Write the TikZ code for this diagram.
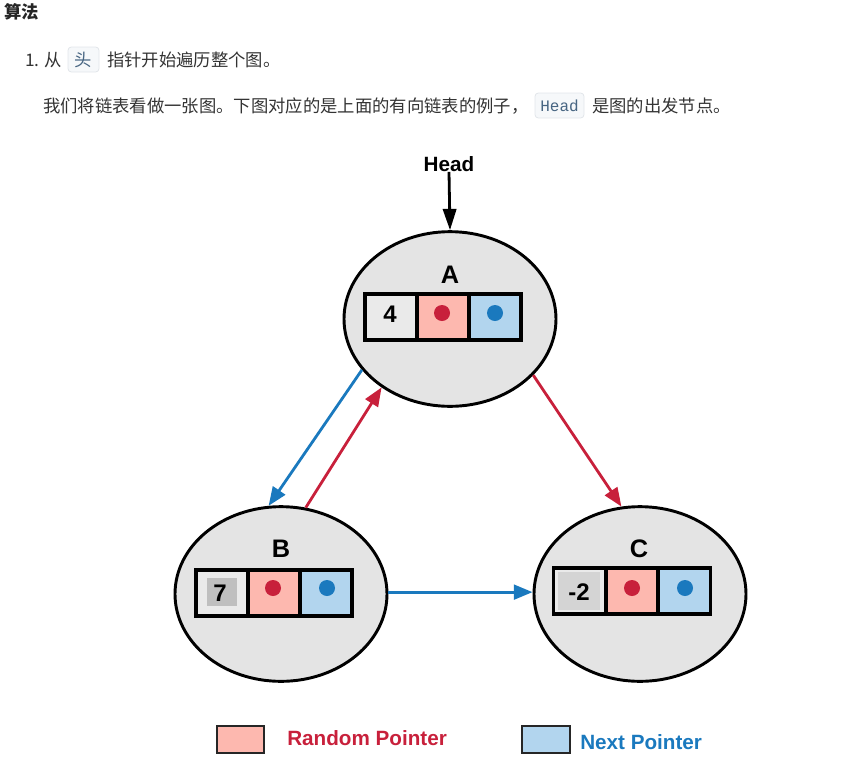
\documentclass[tikz,border=0pt]{standalone}
\usepackage{fontspec}
\setmainfont{Liberation Sans}
\newfontfamily\cjk{Noto Sans CJK SC}
\newfontfamily\codefont{Liberation Mono}
\usetikzlibrary{arrows.meta,shapes.geometric}
\definecolor{ellfill}{HTML}{E4E4E4}
\definecolor{cellgray}{HTML}{EAEAEA}
\definecolor{pinkc}{HTML}{FDB8AF}
\definecolor{bluec}{HTML}{B2D5EE}
\definecolor{redc}{HTML}{C8203B}
\definecolor{bluel}{HTML}{1A79BE}
\definecolor{bodytxt}{HTML}{333333}
\definecolor{chipfill}{HTML}{F6F8FA}
\definecolor{chipdraw}{HTML}{E2E6EA}
\definecolor{chiptxt}{HTML}{476582}
\tikzset{
  txt/.style={anchor=west, inner sep=0pt, text=bodytxt, font=\cjk\fontsize{13}{15}\selectfont},
  chip/.style={rounded corners=2.5pt, fill=chipfill, draw=chipdraw, line width=0.6pt, text=chiptxt, inner sep=0pt},
  listnode/.style={ellipse, draw=black, fill=ellfill, line width=2.2pt, inner sep=0pt, minimum width=159pt, minimum height=131pt},
  lbl/.style={font=\bfseries\fontsize{19}{22}\selectfont, inner sep=0pt},
  cell/.style={draw=black, line width=2.8pt, minimum width=39pt, minimum height=34.5pt, inner sep=0pt},
  numtxt/.style={font=\bfseries\fontsize{18}{21}\selectfont, inner sep=0pt},
  dot/.style={circle, inner sep=0pt, minimum size=12pt},
  parrow/.style={line width=2.1pt, -{Triangle[length=14pt,width=11pt]}},
  legtxt/.style={anchor=west, inner sep=0pt, font=\bfseries\fontsize{15.5}{18}\selectfont},
}
\begin{document}
\begin{tikzpicture}[x=0.75pt,y=-0.75pt]
\useasboundingbox (0,0) rectangle (843,775);
% header text
\node[txt, text=black!85, font=\cjk\bfseries\fontsize{13}{15}\selectfont] (title) at (4,12) {算法};
\node[txt] (l1a) at (25,60) {1. 从};
\node[chip, minimum width=23.25pt, minimum height=18.75pt, font=\cjk\fontsize{13}{15}\selectfont] (chip1) at (83.5,59.5) {头};
\node[txt] (l1b) at (107,60) {指针开始遍历整个图。};
\node[txt] (l2a) at (43,106) {我们将链表看做一张图。下图对应的是上面的有向链表的例子，};
\node[chip, minimum width=36.75pt, minimum height=18.75pt, font=\codefont\fontsize{12}{14}\selectfont] (chip2) at (559.5,105.5) {Head};
\node[txt] (l2b) at (592,106) {是图的出发节点。};

% list nodes
\node[listnode] (A) at (450,319) {};
\node[listnode] (B) at (281,594) {};
\node[listnode] (C) at (640,594) {};

\node[lbl] (Alab) at (450,275) {A};
\node[lbl] (Blab) at (281,549) {B};
\node[lbl] (Clab) at (639,549) {C};

% A cells
\node[cell, fill=cellgray] (A0) at (391,317) {};
\node[cell, fill=pinkc] (A1) at (443,317) {};
\node[cell, fill=bluec] (A2) at (495,317) {};
\node[numtxt] (A0t) at (390,314) {4};
\node[dot, fill=redc] (A1d) at (442,313) {};
\node[dot, fill=bluel] (A2d) at (495,313) {};

% B cells
\node[cell, fill=cellgray, path picture={\fill[black!25] ([shift={(-11pt,-9.5pt)}]path picture bounding box.center) rectangle ++(22pt,21pt);}] (B0) at (222,593) {};
\node[cell, fill=pinkc] (B1) at (274,593) {};
\node[cell, fill=bluec] (B2) at (326,593) {};
\node[numtxt] (B0t) at (220,593) {7};
\node[dot, fill=redc] (B1d) at (273,588) {};
\node[dot, fill=bluel] (B2d) at (327,588) {};

% C cells
\node[cell, fill=cellgray, path picture={\fill[black!17] ([shift={(-16pt,-14pt)}]path picture bounding box.center) rectangle ++(31pt,28pt);}] (C0) at (579.5,591) {};
\node[cell, fill=pinkc] (C1) at (632,591) {};
\node[cell, fill=bluec] (C2) at (684.5,591) {};
\node[numtxt] (C0t) at (579,592) {-2};
\node[dot, fill=redc] (C1d) at (632,588) {};
\node[dot, fill=bluel] (C2d) at (685,588) {};

% Head pointer
\node[font=\bfseries\fontsize{15.5}{18}\selectfont, inner sep=0pt] (Head) at (449,164) {Head};
\draw[line width=2.1pt, -{Triangle[length=16pt,width=10pt]}] (Head.south) -- (A.north);

% pointers
\draw[parrow, bluel] (A.210.6) -- (B.98.5);
\draw[parrow, redc] (B.74.7) -- (A.225.8);
\draw[parrow, redc] (A.-34.5) -- (C.102.8);
\draw[parrow, bluel] (B.1) -- (C.179);

% legend
\node[draw=black!85, line width=1.8pt, fill=pinkc, minimum width=35pt, minimum height=20pt, inner sep=0pt] (legR) at (240.5,739.5) {};
\node[legtxt, text=redc] (legRt) at (287,738) {Random Pointer};
\node[draw=black!85, line width=1.8pt, fill=bluec, minimum width=36pt, minimum height=20pt, inner sep=0pt] (legN) at (546,739.5) {};
\node[legtxt, text=bluel] (legNt) at (580,742) {Next Pointer};
\end{tikzpicture}
\end{document}
